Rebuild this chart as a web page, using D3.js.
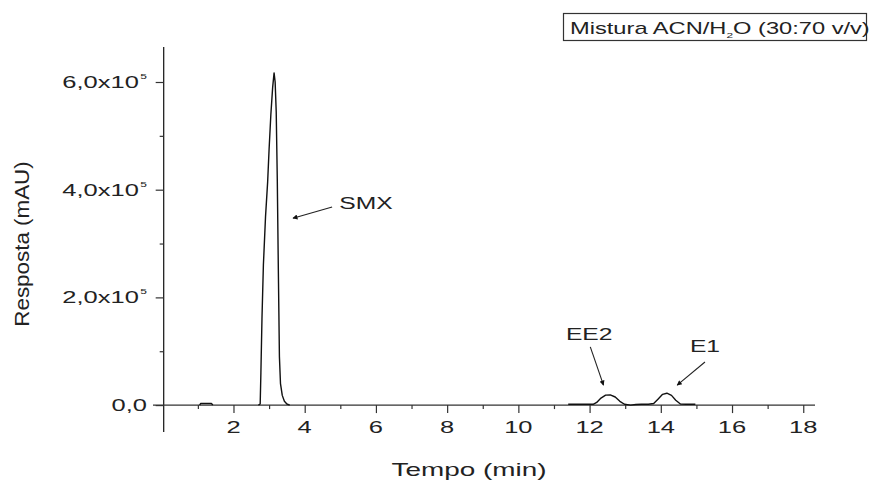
<!DOCTYPE html>
<html>
<head>
<meta charset="utf-8">
<script src="https://cdn.jsdelivr.net/npm/d3@7"></script>
<style>
  html, body { margin: 0; padding: 0; background: #fff; }
  svg { display: block; }
  text { font-family: "Liberation Sans", Arial, Helvetica, sans-serif; fill: #222; }
</style>
</head>
<body>
<svg id="chart" width="869" height="484"></svg>
<script>
// Chromatogram trace segments: retention time (min) and detector response (mAU)
const noiseTime  = [1.05, 1.08, 1.20, 1.38, 1.42];
const noiseResp  = [0, 3000, 3000, 3000, 0];

const smxTime = [2.70, 2.75, 2.77, 2.80, 2.84, 2.90, 2.96, 3.00, 3.05, 3.10, 3.14, 3.17, 3.20, 3.23, 3.26, 3.29, 3.32, 3.37, 3.43, 3.50, 3.58];
const smxResp = [0, 2000, 60000, 160000, 260000, 350000, 415000, 475000, 540000, 590000, 617000, 600000, 545000, 420000, 250000, 90000, 40000, 18000, 7000, 2000, 0];

const steroidTime = [11.40, 12.10, 12.20, 12.32, 12.45, 12.58, 12.72, 12.85, 12.98, 13.15, 13.30, 13.45, 13.65, 13.80, 13.92, 14.05, 14.17, 14.30, 14.42, 14.55, 14.70, 14.97];
const steroidResp = [1500, 1500, 5000, 13000, 18500, 19000, 15000, 7000, 1500, 0, 1000, 1500, 1500, 3000, 11000, 20000, 22000, 18000, 9000, 2000, 1500, 1500];

// Axis ticks and labels
const xMajorTicks = [2, 4, 6, 8, 10, 12, 14, 16, 18];
const xMinorTicks = [1, 3, 5, 7, 9, 11, 13, 15, 17];
const yMajorTicks = [0, 200000, 400000, 600000];
const yMinorTicks = [100000, 300000, 500000];
const yTickMantissa = ["0,0", "2,0x10", "4,0x10", "6,0x10"];
const yTickExponent = ["", "5", "5", "5"];

// Peak annotations: label, label anchor (t, response), arrow tail and head
const peakNames   = ["SMX", "EE2", "E1"];
const labelTime   = [4.97, 11.99, 15.24];
const labelResp   = [364000, 120000, 98000];
const labelAnchor = ["start", "middle", "middle"];
const arrowFromT  = [4.77, 12.02, 15.24];
const arrowFromR  = [368000, 108000, 80000];
const arrowToT    = [3.67, 12.39, 14.46];
const arrowToR    = [347000, 37000, 37000];

const xTitle = "Tempo (min)";
const yTitle = "Resposta (mAU)";

// ---------------------------------------------------------------
const svg = d3.select("#chart");
const SX = 1.45;   // horizontal stretch used for all lettering

const x = d3.scaleLinear().domain([-0.26, 18.33]).range([153, 815]);
const y = d3.scaleLinear().domain([-50000, 665000]).range([432, 47]);

const defs = svg.append("defs");
defs.append("marker")
  .attr("id", "arrowhead")
  .attr("viewBox", "0 0 10 10")
  .attr("refX", 9).attr("refY", 5)
  .attr("markerWidth", 7).attr("markerHeight", 5)
  .attr("markerUnits", "userSpaceOnUse")
  .attr("orient", "auto")
  .append("path").attr("d", "M0,0 L10,5 L0,10 z").attr("fill", "#111");

function stretchedText(parent, px, py, size, anchor, str, sx = SX) {
  const g = parent.append("g").attr("transform", `translate(${px},${py})`);
  return g.append("text")
    .attr("transform", `scale(${sx},1)`)
    .attr("font-size", size)
    .attr("text-anchor", anchor)
    .text(str);
}

// Axis lines
svg.append("line")
  .attr("x1", x(0.04)).attr("x2", x(0.04))
  .attr("y1", y.range()[1]).attr("y2", y.range()[0])
  .attr("stroke", "#222").attr("stroke-width", 1.3);
svg.append("line")
  .attr("x1", x.range()[0]).attr("x2", x.range()[1])
  .attr("y1", y(0)).attr("y2", y(0))
  .attr("stroke", "#333").attr("stroke-width", 1.2);

// X ticks
const xAxisG = svg.append("g").attr("transform", `translate(0,${y(0)})`);
xAxisG.append("g")
  .call(d3.axisBottom(x).tickValues(xMajorTicks).tickSize(8).tickFormat(""))
  .call(g => g.select(".domain").remove())
  .call(g => g.selectAll("line").attr("stroke", "#333").attr("stroke-width", 1.2));
xAxisG.append("g")
  .call(d3.axisBottom(x).tickValues(xMinorTicks).tickSize(4).tickFormat(""))
  .call(g => g.select(".domain").remove())
  .call(g => g.selectAll("line").attr("stroke", "#333").attr("stroke-width", 1.2));
xMajorTicks.forEach(v => {
  stretchedText(svg, x(v), 433, 17, "middle", String(v), 1.5);
});

// Y ticks
const yAxisG = svg.append("g").attr("transform", `translate(${x(0.04)},0)`);
yAxisG.append("g")
  .call(d3.axisLeft(y).tickValues(yMajorTicks).tickSize(8).tickFormat(""))
  .call(g => g.select(".domain").remove())
  .call(g => g.selectAll("line").attr("stroke", "#333").attr("stroke-width", 1.2));
yAxisG.append("g")
  .call(d3.axisLeft(y).tickValues(yMinorTicks).tickSize(4).tickFormat(""))
  .call(g => g.select(".domain").remove())
  .call(g => g.selectAll("line").attr("stroke", "#333").attr("stroke-width", 1.2));
yMajorTicks.forEach((v, i) => {
  const t = stretchedText(svg, 147, y(v) + 6, 17, "end", yTickMantissa[i], 1.5);
  if (yTickExponent[i]) {
    t.append("tspan").attr("font-size", 8).attr("dy", -9).attr("dx", 1).text(yTickExponent[i]);
  }
});

// Axis titles
stretchedText(svg, 469, 476, 18, "middle", xTitle, 1.55);
svg.append("g")
  .attr("transform", `translate(29,244) rotate(-90)`)
  .append("text")
  .attr("transform", "scale(1.12,1)")
  .attr("font-size", 20)
  .attr("text-anchor", "middle")
  .text(yTitle);

// Trace
const line = d3.line().x(d => x(d[0])).y(d => y(d[1]));
[[noiseTime, noiseResp], [smxTime, smxResp], [steroidTime, steroidResp]].forEach(([ts, rs]) => {
  svg.append("path")
    .datum(ts.map((t, i) => [t, rs[i]]))
    .attr("d", line)
    .attr("fill", "none")
    .attr("stroke", "#111")
    .attr("stroke-width", 1.4)
    .attr("stroke-linejoin", "round");
});

// Peak annotations
peakNames.forEach((name, i) => {
  svg.append("line")
    .attr("x1", x(arrowFromT[i])).attr("y1", y(arrowFromR[i]))
    .attr("x2", x(arrowToT[i])).attr("y2", y(arrowToR[i]))
    .attr("stroke", "#222").attr("stroke-width", 1.1)
    .attr("marker-end", "url(#arrowhead)");
  stretchedText(svg, x(labelTime[i]), y(labelResp[i]), 17, labelAnchor[i], name);
});

// Mobile phase box
const box = svg.append("g");
box.append("rect")
  .attr("x", 563.5).attr("y", 13.5).attr("width", 303).attr("height", 27)
  .attr("fill", "#fff").attr("stroke", "#333").attr("stroke-width", 1.2);
const lt = stretchedText(box, 570, 34, 16, "start", "Mistura ACN/H", 1.48);
lt.append("tspan").attr("font-size", 8).attr("dy", 4).text("2");
lt.append("tspan").attr("dy", -4).text("O (30:70 v/v)");
</script>
</body>
</html>
